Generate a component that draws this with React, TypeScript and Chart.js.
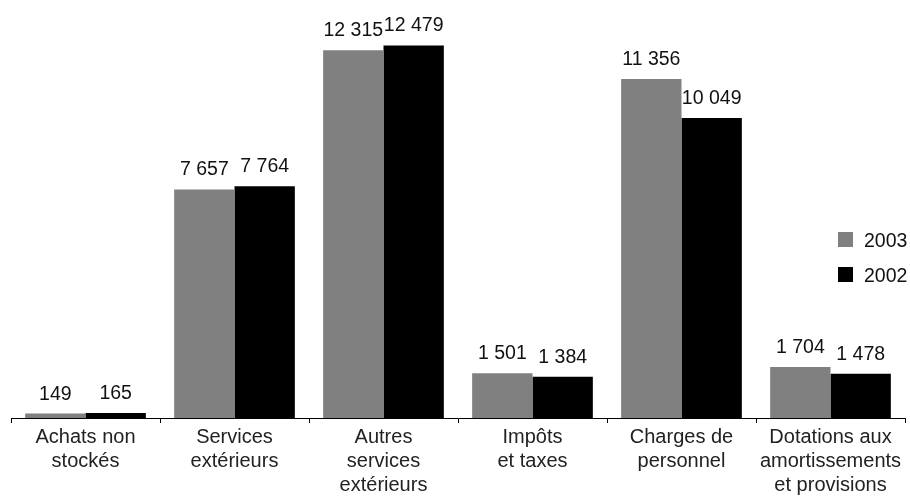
import React, { useEffect, useRef } from "react";
import { Chart, registerables } from "chart.js";

Chart.register(...registerables);

const categories: string[][] = [
  ["Achats non", "stockés"],
  ["Services", "extérieurs"],
  ["Autres", "services", "extérieurs"],
  ["Impôts", "et taxes"],
  ["Charges de", "personnel"],
  ["Dotations aux", "amortissements", "et provisions"],
];
const values2003: number[] = [149, 7657, 12315, 1501, 11356, 1704];
const values2002: number[] = [165, 7764, 12479, 1384, 10049, 1478];
const seriesLabels: string[] = ["2003", "2002"];
const seriesColors: string[] = ["#808080", "#000000"];

const FONT = "'Liberation Sans', Arial, Helvetica, sans-serif";

const fmt = (v: number) => String(v).replace(/\B(?=(\d{3})+(?!\d))/g, " ");

const valueLabels = {
  id: "valueLabels",
  afterDatasetsDraw(chart: any) {
    const ctx = chart.ctx;
    ctx.save();
    ctx.font = `19.5px ${FONT}`;
    ctx.fillStyle = "#111";
    ctx.textAlign = "center";
    ctx.textBaseline = "alphabetic";
    chart.data.datasets.forEach((ds: any, di: number) => {
      const meta = chart.getDatasetMeta(di);
      meta.data.forEach((bar: any, i: number) => {
        ctx.fillText(fmt(ds.data[i]), bar.x, bar.y - 14);
      });
    });
    ctx.restore();
  },
};

const customLegend = {
  id: "customLegend",
  afterDraw(chart: any) {
    const ctx = chart.ctx;
    ctx.save();
    ctx.font = `19.5px ${FONT}`;
    ctx.textAlign = "left";
    ctx.textBaseline = "alphabetic";
    const x = 838;
    chart.data.datasets.forEach((ds: any, di: number) => {
      const y = 232 + di * 35;
      ctx.fillStyle = ds.backgroundColor;
      ctx.fillRect(x, y, 15, 15);
      ctx.fillStyle = "#111";
      ctx.fillText(ds.label, x + 26, y + 15);
    });
    ctx.restore();
  },
};

export default function App() {
  const ref = useRef<HTMLCanvasElement | null>(null);
  useEffect(() => {
    if (!ref.current) return;
    const chart = new Chart(ref.current, {
      type: "bar",
      data: {
        labels: categories,
        datasets: [
          { label: seriesLabels[0], data: values2003, backgroundColor: seriesColors[0] },
          { label: seriesLabels[1], data: values2002, backgroundColor: seriesColors[1] },
        ],
      },
      options: {
        responsive: false,
        animation: false,
        maintainAspectRatio: false,
        layout: { padding: { left: 11, right: 5, top: 0, bottom: 0 } },
        datasets: { bar: { categoryPercentage: 0.81, barPercentage: 1.0 } },
        plugins: { legend: { display: false }, tooltip: { enabled: false } },
        scales: {
          x: {
            grid: {
              display: true,
              drawOnChartArea: false,
              drawTicks: true,
              tickLength: 5,
              color: "#000",
              offset: true,
            },
            border: { display: true, color: "#000", width: 1 },
            ticks: {
              color: "#222",
              padding: 2,
              font: { family: FONT, size: 20, lineHeight: 1.2 },
              maxRotation: 0,
              autoSkip: false,
            },
          },
          y: {
            display: false,
            min: 0,
            max: 14000,
          },
        },
      },
      plugins: [valueLabels, customLegend],
    });
    return () => chart.destroy();
  }, []);
  return (
    <div style={{ position: "fixed", left: 0, top: 0, width: 910, height: 499, background: "#fff" }}>
      <canvas ref={ref} width={910} height={499} style={{ display: "block" }} />
    </div>
  );
}
